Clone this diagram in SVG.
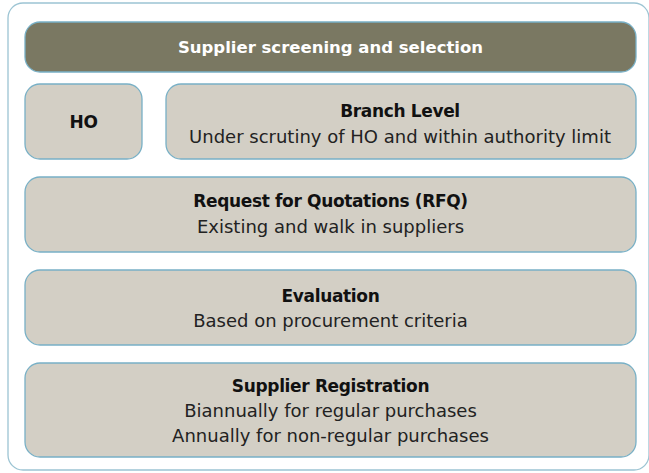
<svg xmlns="http://www.w3.org/2000/svg" width="649" height="473" viewBox="0 0 649 473">
<style>
.frame{fill:#ffffff;stroke:#9cc4d3;stroke-width:1.3}
.box{fill:#d3cfc5;stroke:#78b0c6;stroke-width:1.3}
.head{fill:#7a7862;stroke:#78b0c6;stroke-width:1.3}
text{font-family:"DejaVu Sans","Liberation Sans",sans-serif;font-size:18px;text-anchor:middle;fill:#222222}
.b{font-weight:bold;fill:#111;font-size:17px;letter-spacing:-0.35px}
.w{fill:#ffffff;font-weight:bold;font-size:16.5px}
</style>
<rect class="frame" x="8" y="3" width="641" height="467" rx="15"/>
<g id="header">
<rect class="head" x="25" y="22" width="611" height="50" rx="15"/>
<text class="w" x="330.5" y="53">Supplier screening and selection</text>
</g>
<g id="ho">
<rect class="box" x="25" y="84" width="117" height="75" rx="15"/>
<text class="b" x="83.5" y="128">HO</text>
</g>
<g id="branch">
<rect class="box" x="166" y="84" width="470" height="75" rx="15"/>
<text class="b" x="400" y="117">Branch Level</text>
<text x="400" y="143">Under scrutiny of HO and within authority limit</text>
</g>
<g id="rfq">
<rect class="box" x="25" y="177" width="611" height="75" rx="15"/>
<text class="b" x="330.5" y="207">Request for Quotations (RFQ)</text>
<text x="330.5" y="233">Existing and walk in suppliers</text>
</g>
<g id="evaluation">
<rect class="box" x="25" y="270" width="611" height="75" rx="15"/>
<text class="b" x="330.5" y="302">Evaluation</text>
<text x="330.5" y="327">Based on procurement criteria</text>
</g>
<g id="registration">
<rect class="box" x="25" y="363" width="611" height="94" rx="15"/>
<text class="b" x="330.5" y="392">Supplier Registration</text>
<text x="330.5" y="417">Biannually for regular purchases</text>
<text x="330.5" y="442">Annually for non-regular purchases</text>
</g>
<g id="connectors"/>
</svg>
